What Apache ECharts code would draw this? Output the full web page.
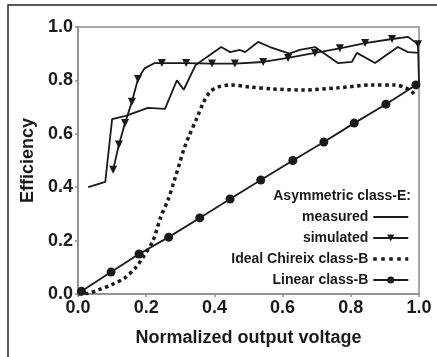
<!DOCTYPE html>
<html>
<head>
<meta charset="utf-8">
<script src="https://cdn.jsdelivr.net/npm/echarts@6/dist/echarts.min.js"></script>
<style>
html,body{margin:0;padding:0;background:#fff;}
#chart{width:437px;height:357px;}
</style>
</head>
<body>
<div id="chart"></div>
<script>
var xTicks = [0, 0.2, 0.4, 0.6, 0.8, 1.0];
var yTicks = [0, 0.2, 0.4, 0.6, 0.8, 1.0];

var measured = [
  [0.03,0.40],[0.08,0.42],[0.10,0.655],[0.14,0.667],[0.205,0.697],[0.255,0.693],
  [0.29,0.80],[0.31,0.765],[0.345,0.858],[0.42,0.925],[0.446,0.906],[0.475,0.914],
  [0.49,0.906],[0.528,0.944],[0.563,0.925],[0.62,0.90],[0.65,0.914],[0.695,0.925],
  [0.762,0.865],[0.803,0.869],[0.818,0.903],[0.871,0.865],[0.938,0.925],[0.968,0.906],[1.0,0.903]
];

// [x, y, showMarker]
var simulated = [
  [0.103,0.465,1],[0.12,0.56,1],[0.138,0.64,1],[0.158,0.72,1],[0.176,0.805,1],
  [0.195,0.845,0],[0.225,0.865,0],[0.246,0.865,1],[0.317,0.865,1],[0.393,0.863,1],
  [0.46,0.863,1],[0.543,0.869,1],[0.616,0.884,1],[0.695,0.903,1],[0.768,0.92,1],
  [0.842,0.94,1],[0.921,0.955,1],[0.968,0.963,0],[0.997,0.935,1],[1.0,0.79,0]
];

var chireix = [
  [0,0],[0.03,0.003],[0.059,0.015],[0.097,0.034],[0.137,0.06],[0.17,0.10],[0.195,0.146],
  [0.22,0.20],[0.243,0.29],[0.264,0.352],[0.283,0.427],[0.298,0.49],[0.31,0.54],
  [0.325,0.59],[0.349,0.66],[0.367,0.715],[0.387,0.757],[0.41,0.775],[0.446,0.783],
  [0.504,0.775],[0.572,0.768],[0.66,0.764],[0.762,0.772],[0.862,0.783],[0.93,0.783],
  [0.96,0.772],[0.98,0.757],[0.99,0.738]
];

var linear = [
  [0.01,0.01],[0.097,0.082],[0.179,0.15],[0.266,0.213],[0.357,0.285],[0.446,0.356],
  [0.536,0.427],[0.63,0.50],[0.721,0.569],[0.81,0.64],[0.903,0.711],[0.991,0.783]
];

var names = ['measured', 'simulated', 'Ideal Chireix class-B', 'Linear class-B'];
var legendHeader = 'Asymmetric class-E:';

var FONT = '"Liberation Sans", Arial, sans-serif';
var INK = '#1a1a1a';

var chart = echarts.init(document.getElementById('chart'), null, {renderer: 'canvas'});

var simData = simulated.map(function (p) {
  return p[2] ? {value: [p[0], p[1]]} : {value: [p[0], p[1]], symbol: 'none'};
});

var hidden = {color: 'rgba(0,0,0,0)', borderWidth: 0};

var option = {
  animation: false,
  backgroundColor: '#fff',
  grid: {left: 78, top: 27, right: 18, bottom: 63, show: true, borderColor: '#8c8c8c', borderWidth: 1.5, backgroundColor: 'transparent'},
  graphic: [
    {type: 'rect', shape: {x: 8, y: 5, width: 440, height: 370}, style: {fill: 'none', stroke: '#222', lineWidth: 1.5}, z: 100},
    {type: 'text', x: 411, y: 196, style: {text: legendHeader, font: 'bold 14px ' + FONT, fill: INK, align: 'right', verticalAlign: 'middle'}, z: 100}
  ],
  legend: {
    orient: 'vertical',
    right: 27,
    top: 210,
    padding: 0,
    align: 'right',
    itemWidth: 35,
    itemHeight: 9,
    itemGap: 7,
    data: [
      {name: names[0], itemStyle: hidden},
      {name: names[1]},
      {name: names[2], itemStyle: hidden, lineStyle: {type: [3.5, 4.5], width: 3.5}},
      {name: names[3]}
    ],
    textStyle: {fontFamily: FONT, fontWeight: 'bold', fontSize: 14, color: INK}
  },
  xAxis: {
    type: 'value', min: 0, max: 1, interval: 0.2,
    name: 'Normalized output voltage', nameLocation: 'middle', nameGap: 35,
    nameTextStyle: {fontFamily: FONT, fontWeight: 'bold', fontSize: 18, color: INK},
    axisLine: {show: true, lineStyle: {color: '#8c8c8c', width: 1.5}},
    axisTick: {show: true, length: 3, lineStyle: {color: '#8c8c8c', width: 1.5}},
    axisLabel: {margin: 5, fontFamily: FONT, fontWeight: 'bold', fontSize: 18, color: INK,
      formatter: function (v) { return v.toFixed(1); }},
    splitLine: {show: false}
  },
  yAxis: {
    type: 'value', min: 0, max: 1, interval: 0.2,
    name: 'Efficiency', nameLocation: 'middle', nameGap: 40,
    nameTextStyle: {fontFamily: FONT, fontWeight: 'bold', fontSize: 18, color: INK},
    axisLine: {show: true, lineStyle: {color: '#8c8c8c', width: 1.5}},
    axisTick: {show: true, length: 3, lineStyle: {color: '#8c8c8c', width: 1.5}},
    axisLabel: {margin: 5, fontFamily: FONT, fontWeight: 'bold', fontSize: 18, color: INK,
      formatter: function (v) { return v.toFixed(1); }},
    splitLine: {show: false}
  },
  series: [
    {
      name: names[0], type: 'line', data: measured, symbol: 'none',
      lineStyle: {color: INK, width: 1.8}, itemStyle: {color: INK}, z: 3
    },
    {
      name: names[1], type: 'line', data: simData, symbol: 'triangle', symbolRotate: 180, symbolSize: 8,
      lineStyle: {color: INK, width: 1.8}, itemStyle: {color: INK}, z: 4
    },
    {
      name: names[2], type: 'line', data: chireix, symbol: 'none', smooth: 0.3,
      lineStyle: {color: INK, width: 3.5, type: [3.5, 3.5], cap: 'butt'}, itemStyle: {color: INK}, z: 2
    },
    {
      name: names[3], type: 'line', data: linear, symbol: 'circle', symbolSize: 9,
      lineStyle: {color: INK, width: 1.8}, itemStyle: {color: INK}, z: 5
    }
  ]
};
chart.setOption(option);
</script>
</body>
</html>
